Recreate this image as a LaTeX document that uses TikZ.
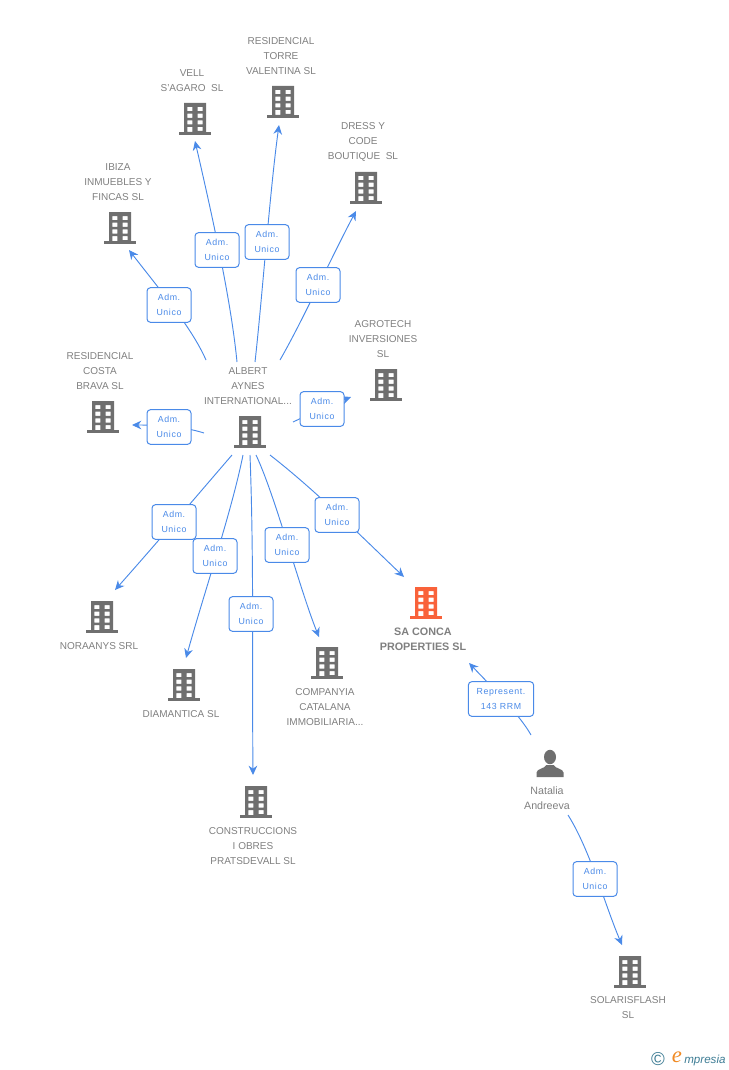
\documentclass[tikz,border=0pt]{standalone}
\usepackage{fontspec}
\setmainfont{Liberation Sans}
\newfontfamily\lblfont[LetterSpace=7]{Liberation Sans}
\newfontfamily\logofont{Liberation Serif}
\usetikzlibrary{arrows.meta}
\definecolor{icongray}{HTML}{6F6F6F}
\definecolor{txtgray}{HTML}{7F7F7F}
\definecolor{linkblue}{HTML}{4A8AE8}
\definecolor{hot}{HTML}{F9623A}
\definecolor{logoteal}{HTML}{3D7C94}
\definecolor{logoorange}{HTML}{F08A24}
\tikzset{
  x=0.75pt,y=-0.75pt,
  bldg/.pic={
    \fill[pic actions,even odd rule]
      (-11,-16) rectangle (11,13)
      (-7.6,-12) rectangle (-2.6,-7.8) (2.6,-12) rectangle (7.6,-7.8)
      (-7.6,-5.4) rectangle (-2.6,-1.2) (2.6,-5.4) rectangle (7.6,-1.2)
      (-7.6,1.3) rectangle (-2.6,5.5) (2.6,1.3) rectangle (7.6,5.5)
      (2.6,8) rectangle (7.6,12) (-7.6,8) rectangle (-2.6,13);
    \fill[pic actions] (-16,13) rectangle (16,16);
  },
  personicon/.pic={
    \fill[pic actions] (0,-7) ellipse[x radius=6,y radius=7.2];
    \fill[pic actions] (-13.5,13) -- (-13.5,8.5) .. controls (-13,4.5) and (-6,5) .. (-3.5,1)
      -- (3.5,1) .. controls (6,5) and (13,4.5) .. (13.5,8.5) -- (13.5,13) -- cycle;
  },
  entname/.style={font=\fontsize{7.5pt}{11.25pt}\selectfont,text=txtgray,align=center,inner sep=0pt},
  boldname/.style={entname,font=\fontsize{8.1pt}{11.25pt}\selectfont\bfseries},
  rel/.style={draw=linkblue,fill=white,rounded corners=2.6pt,line width=0.75pt,
    font=\fontsize{6.6pt}{11.25pt}\lblfont,text=linkblue,align=center,
    minimum width=33pt,minimum height=26pt,inner sep=0pt},
  conn/.style={draw=linkblue,line width=0.7pt},
  linktip/.style={conn,-{Stealth[length=7pt,width=6.5pt]}},
}
\begin{document}
\begin{tikzpicture}
\path[use as bounding box] (0,0) rectangle (728,1070);

% icons
\pic[fill=icongray] at (120,228) {bldg};
\pic[fill=icongray] at (195,119) {bldg};
\pic[fill=icongray] at (283,102) {bldg};
\pic[fill=icongray] at (366,188) {bldg};
\pic[fill=icongray] at (386,385) {bldg};
\pic[fill=icongray] at (103,417) {bldg};
\pic[fill=icongray] at (250,432) {bldg};
\pic[fill=icongray] at (102,617) {bldg};
\pic[fill=icongray] at (184,685) {bldg};
\pic[fill=icongray] at (256,802) {bldg};
\pic[fill=icongray] at (327,663) {bldg};
\pic[fill=hot] at (426,603) {bldg};
\pic[fill=icongray] at (630,972) {bldg};
\pic[fill=icongray] at (550,764) {personicon};

% names
\node[entname] (ibiza) at (118,182) {IBIZA\\INMUEBLES Y\\FINCAS SL};
\node[entname] (vell) at (192,80.5) {VELL\\S'AGARO\ \ SL};
\node[entname] (torre) at (281,56) {RESIDENCIAL\\TORRE\\VALENTINA SL};
\node[entname] (dress) at (363,142) {DRESS Y\\CODE\\BOUTIQUE\ \ SL};
\node[entname] (agro) at (383,339) {AGROTECH\\INVERSIONES\\SL};
\node[entname] (costa) at (100,371) {RESIDENCIAL\\COSTA\\BRAVA SL};
\node[entname] (hub) at (248,386) {ALBERT\\AYNES\\INTERNATIONAL...};
\node[entname] (nora) at (99,646) {NORAANYS SRL};
\node[entname] (diam) at (181,714) {DIAMANTICA SL};
\node[entname] (cons) at (253,846) {CONSTRUCCIONS\\I OBRES\\PRATSDEVALL SL};
\node[entname] (comp) at (325,707) {COMPANYIA\\CATALANA\\IMMOBILIARIA...};
\node[boldname] (conca) at (423,639) {SA CONCA\\PROPERTIES SL};
\node[entname,font=\fontsize{8pt}{11.25pt}\selectfont] (nat) at (547,798) {Natalia\\Andreeva};
\node[entname] (sol) at (628,1008) {SOLARISFLASH\\SL};

% connector ends
\coordinate (s1) at (206,360); \coordinate (t1) at (129,250);
\coordinate (s2) at (237,362); \coordinate (t2) at (195,141);
\coordinate (s3) at (255,362); \coordinate (t3) at (279,125);
\coordinate (s4) at (280,360); \coordinate (t4) at (356,211);
\coordinate (s5) at (293,422); \coordinate (t5) at (351,397);
\coordinate (s6) at (204,433); \coordinate (t6) at (132,425);
\coordinate (s7) at (232,455); \coordinate (t7) at (115,590);
\coordinate (s8) at (243,455); \coordinate (t8) at (186,658);
\coordinate (s9) at (250,455); \coordinate (t9) at (253,775);
\coordinate (s10) at (256,455); \coordinate (t10) at (319,637);
\coordinate (s11) at (270,455); \coordinate (t11) at (404,577);
\coordinate (s12) at (531,735); \coordinate (t12) at (469,663);
\coordinate (s13) at (568,815); \coordinate (t13) at (622,945);

\path
 (169,305) coordinate (m1)
 (217,250) coordinate (m2)
 (267,242) coordinate (m3)
 (318,285) coordinate (m4)
 (322,409) coordinate (m5)
 (169,427) coordinate (m6)
 (174,522) coordinate (m7)
 (215,556) coordinate (m8)
 (251,614) coordinate (m9)
 (287,545) coordinate (m10)
 (337,515) coordinate (m11)
 (501,699) coordinate (m12)
 (595,879) coordinate (m13);

\draw[linktip] (s1) .. controls (192,328) and (160,290) .. (t1);
\draw[linktip] (s2) .. controls (231,300) and (212,215) .. (t2);
\draw[linktip] (s3) .. controls (262,300) and (270,190) .. (t3);
\draw[linktip] (s4) .. controls (303,320) and (330,260) .. (t4);
\draw[linktip] (s5) .. controls (310,414) and (335,403) .. (t5);
\draw[linktip] (s6) .. controls (182,426) and (155,425) .. (t6);
\draw[linktip] (s7) .. controls (195,498) and (155,545) .. (t7);
\draw[linktip] (s8) .. controls (232,510) and (205,590) .. (t8);
\draw[linktip] (s9) .. controls (254,560) and (252,670) .. (t9);
\draw[linktip] (s10) .. controls (275,495) and (300,590) .. (t10);
\draw[linktip] (s11) .. controls (315,490) and (360,535) .. (t11);
\draw[linktip] (s12) .. controls (520,715) and (490,685) .. (t12);
\draw[linktip] (s13) .. controls (590,850) and (605,905) .. (t13);

\foreach \m in {m1,m2,m3,m4,m5,m6,m7,m8,m9,m10,m11,m13}
  \node[rel] (lab-\m) at (\m) {Adm.\\Unico};
\node[rel,minimum width=49pt] (lab-m12) at (m12) {Represent.\\143 RRM};

% logo
\node[inner sep=0pt,text=logoteal,font=\fontsize{14pt}{14pt}\selectfont] (copy) at (658,1059) {©};
\node[inner sep=0pt,text=logoorange,font=\fontsize{17pt}{17pt}\logofont\itshape] (loge) at (677,1057) {e};
\node[inner sep=0pt,anchor=west,text=logoteal,font=\fontsize{8.7pt}{10pt}\selectfont\itshape] (logt) at (684,1060) {mpresia};
\end{tikzpicture}
\end{document}
